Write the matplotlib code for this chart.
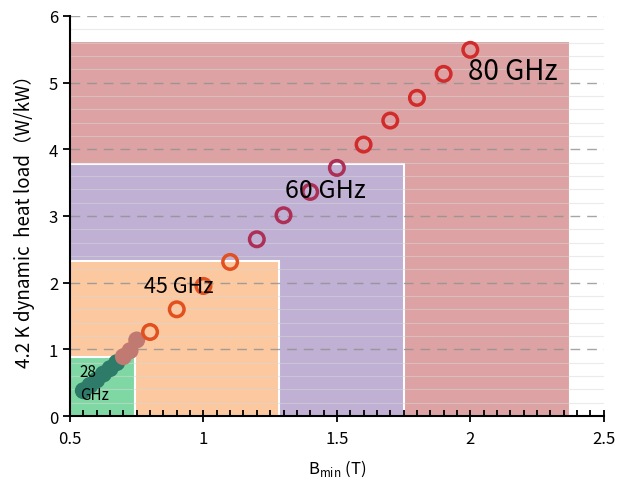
import numpy as np
import matplotlib
matplotlib.use('Agg')
import matplotlib.pyplot as plt
from matplotlib.patches import Rectangle
from matplotlib.ticker import MultipleLocator

plt.rcParams['font.family'] = ['Noto Sans CJK SC', 'DejaVu Sans']
plt.rcParams['mathtext.fontset'] = 'custom'
plt.rcParams['mathtext.rm'] = 'Noto Sans CJK SC'

# frequency boxes: label, B_min limit (T), heat load limit (W/kW)
box_labels = ['80 GHz', '60 GHz', '45 GHz', '28\nGHz']
box_bmax = [2.375, 1.75, 1.285, 0.745]
box_load = [5.62, 3.78, 2.32, 0.88]
box_colors = ['#dda2a3', '#bfb0d4', '#fbc8a0', '#7fd8a4']

# filled dots (low field)
b_low = [0.55, 0.575, 0.6, 0.625, 0.65, 0.675, 0.70, 0.725, 0.75]
q_low = [0.38, 0.46, 0.54, 0.63, 0.71, 0.80, 0.89, 0.98, 1.14]
c_low = ['#2e7b6a'] * 6 + ['#c07a72'] * 3

# open circles
b_high = [0.8, 0.9, 1.0, 1.1, 1.2, 1.3, 1.4, 1.5, 1.6, 1.7, 1.8, 1.9, 2.0]
q_high = [1.26, 1.60, 1.95, 2.31, 2.65, 3.01, 3.36, 3.72, 4.07, 4.43, 4.77, 5.13, 5.49]
c_high = ['#e2501f'] * 4 + ['#ad2f55'] * 4 + ['#d22b2b'] * 5

xticks = [0.5, 1.0, 1.5, 2.0, 2.5]
xtick_labels = ['0.5', '1', '1.5', '2', '2.5']

fig = plt.figure(figsize=(6.25, 4.81), dpi=100)
ax = fig.add_axes([0.112, 0.133, 0.854, 0.832])
ax.set_xlim(0.5, 2.5)
ax.set_ylim(0, 6)

for bmax, load, col in zip(box_bmax, box_load, box_colors):
    ax.add_patch(Rectangle((0.5, 0), bmax - 0.5, load, facecolor=col,
                           edgecolor='white', linewidth=1.5, zorder=1))

# grid over the boxes
for y in np.arange(0.2, 6.0, 0.2):
    if abs(y - round(y)) < 1e-6:
        continue
    ax.axhline(y, color='#d8d8d8', lw=0.8, alpha=0.5, zorder=2)
for y in range(1, 7):
    ax.axhline(y, color='#909090', lw=1, ls=(0, (7, 5)), alpha=0.8, zorder=2)

ax.scatter(b_low, q_low, s=150, c=c_low, edgecolors='none', zorder=3)
ax.scatter(b_high, q_high, s=110, facecolors='none', edgecolors=c_high,
           linewidths=2.5, zorder=3)

ax.text(1.99, 5.05, box_labels[0], fontsize=20, zorder=4)
ax.text(1.305, 3.28, box_labels[1], fontsize=18, zorder=4)
ax.text(0.777, 1.86, box_labels[2], fontsize=15.5, zorder=4)
ax.text(0.537, 0.25, box_labels[3], fontsize=11, zorder=4, linespacing=1.5)

for s in ['top', 'right']:
    ax.spines[s].set_visible(False)
for s in ['left', 'bottom']:
    ax.spines[s].set_linewidth(1.5)
    ax.spines[s].set_zorder(5)

ax.set_xticks(xticks)
ax.set_xticklabels(xtick_labels)
ax.xaxis.set_minor_locator(MultipleLocator(0.05))
ax.yaxis.set_major_locator(MultipleLocator(1))
ax.tick_params(axis='x', which='major', direction='inout', length=8, width=1.3, labelsize=12, pad=6)
ax.tick_params(axis='x', which='minor', direction='in', length=4, width=1.3)
ax.tick_params(axis='y', which='major', direction='out', length=5, width=1.3, labelsize=12)

ax.set_xlabel(r'B$_{\mathrm{min}}$ (T)', fontsize=12, labelpad=8)
ax.set_ylabel('4.2 K dynamic  heat load（W/kW）', fontsize=13.5, labelpad=10)

fig.savefig('out.png', dpi=100)
